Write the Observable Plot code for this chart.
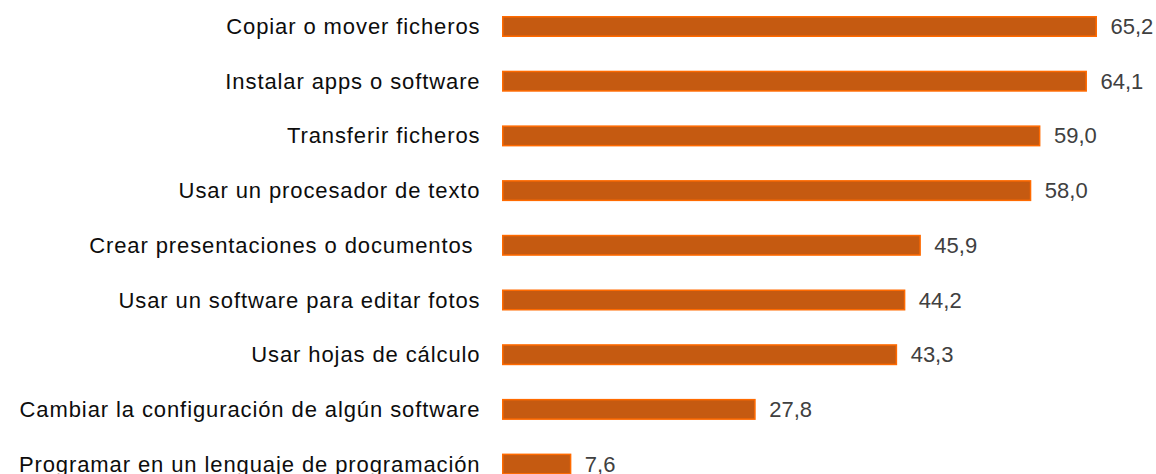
<!DOCTYPE html>
<html>
<head>
<meta charset="utf-8">
<script src="https://cdn.jsdelivr.net/npm/d3@7"></script>
<script src="https://cdn.jsdelivr.net/npm/@observablehq/plot@0.6"></script>
<style>
  html, body { margin: 0; padding: 0; background: #fff; }
  #chart svg { display: block; }
  #chart svg g[aria-label="y-axis tick label"] text { letter-spacing: 0.9px; }
</style>
</head>
<body>
<div id="chart"></div>
<script>
const categories = [
  "Copiar o mover ficheros",
  "Instalar apps o software",
  "Transferir ficheros",
  "Usar un procesador de texto",
  "Crear presentaciones o documentos\u00a0",
  "Usar un software para editar fotos",
  "Usar hojas de cálculo",
  "Cambiar la configuración de algún software",
  "Programar en un lenguaje de programación"
];
const values = [65.2, 64.1, 59.0, 58.0, 45.9, 44.2, 43.3, 27.8, 7.6];

const data = categories.map((c, i) => ({category: c, value: values[i]}));
const fmt = v => v.toFixed(1).replace(".", ",");

const chart = Plot.plot({
  width: 1156,
  height: 474,
  marginLeft: 502,
  marginRight: 59,
  marginTop: 0,
  marginBottom: 0,
  style: {fontFamily: "'Liberation Sans', Arial, sans-serif", background: "#fff"},
  x: {domain: [0, 65.2], axis: null},
  y: {domain: categories, range: [16, 474.6], paddingInner: 0.616, paddingOuter: 0, round: false, label: null},
  marks: [
    Plot.barX(data, {
      y: "category", x: "value",
      fill: "#C55A11", stroke: "#FF6A00", strokeWidth: 1.5,
      inset: 0.75
    }),
    Plot.text(data, {
      y: "category", x: "value",
      text: d => fmt(d.value),
      textAnchor: "start", dx: 13,
      fontSize: 22, fill: "#404040"
    }),
    Plot.axisY({
      tickSize: 0, tickPadding: 22, fontSize: 22, label: null,
      textAnchor: "end", fill: "#0d0d0d"
    })
  ]
});
document.getElementById("chart").appendChild(chart);
</script>
</body>
</html>
